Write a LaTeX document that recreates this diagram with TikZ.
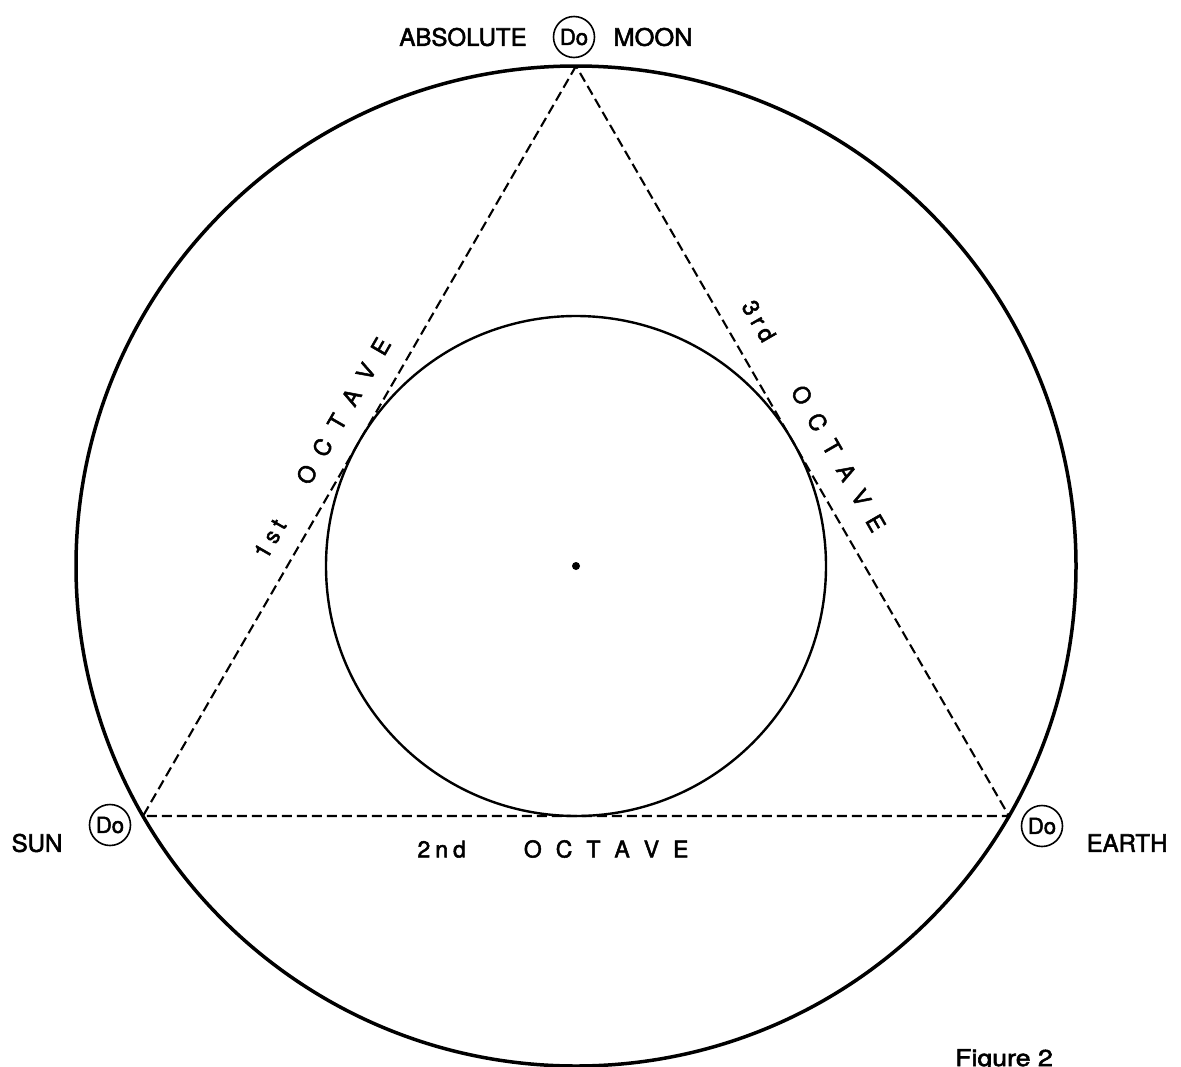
\documentclass[tikz,border=0pt]{standalone}
\usepackage{fontspec}
\setmainfont{TeX Gyre Heros}
\newfontfamily\medf{TeX Gyre Heros}[FakeBold=2.2]
\begin{document}
\begin{tikzpicture}[x=1pt,y=-1pt,
  lbl/.style={font=\medf\fontsize{24}{28}\selectfont, inner sep=0pt},
  figlbl/.style={font=\medf\fontsize{23}{27}\selectfont, inner sep=0pt},
  oct/.style={font=\medf\fontsize{23}{27}\selectfont, inner sep=0pt},
  doc/.style={circle, draw, line width=1.6pt, minimum size=41pt, inner sep=0pt, font=\medf\fontsize{22}{26}\selectfont},
  dsh/.style={line width=2.1pt, dash pattern=on 10pt off 5pt},
  outer/.style={line width=3.5pt},
  inner/.style={line width=2.4pt}]
\useasboundingbox (0,0) rectangle (1181,1066);
\coordinate (O) at (576,566);
\coordinate (A) at (576,66);
\coordinate (S) at (143,816);
\coordinate (E) at (1009,816);
\draw[outer] (O) circle[radius=500];
\draw[inner] (O) circle[radius=250];
\fill (O) circle[radius=4];
\draw[dsh] (A) -- (S) -- (E) -- cycle;
% Do circles
\node[doc] (dA) at (574,37) {Do};
\node[doc] (dS) at (110,825) {Do};
\node[doc] (dE) at (1042,826) {Do};
% labels
\node[lbl] (abs) at (463,37) {ABSOLUTE};
\node[lbl, xscale=1.06] (moon) at (653,37) {MOON};
\node[lbl] (sun) at (37,843) {SUN};
\node[lbl] (earth) at (1127,843) {EARTH};
% octaves
\node[oct] (o2) at (553,849) {2\kern5pt n\kern5pt d\kern58pt O\kern14pt C\kern14pt T\kern14pt A\kern14pt V\kern14pt E};
\node[oct, rotate=60] (o1) at (322,448) {1\kern5pt s\kern5pt t\kern45pt O\kern14pt C\kern14pt T\kern14pt A\kern14pt V\kern14pt E};
\node[oct, rotate=-60] (o3) at (814,416) {3\kern5pt r\kern5pt d\kern55pt O\kern14pt C\kern14pt T\kern14pt A\kern14pt V\kern14pt E};
\node[figlbl, anchor=base west, xscale=1.16] (fig) at (955,1066) {Figure 2};
\end{tikzpicture}
\end{document}
